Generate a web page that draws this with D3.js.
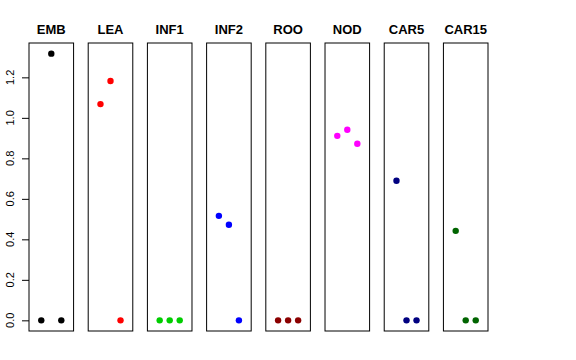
<!DOCTYPE html>
<html>
<head>
<script src="https://cdn.jsdelivr.net/npm/d3@7"></script>
<style>
  body { margin: 0; background: #fff; }
  text { font-family: "Liberation Sans", Arial, sans-serif; }
</style>
</head>
<body>
<div id="chart"></div>
<script>
// one panel per tissue, three samples each
var tissues = ["EMB", "LEA", "INF1", "INF2", "ROO", "NOD", "CAR5", "CAR15"];
var colors = ["#000000", "#FF0000", "#00CD00", "#0000FF", "#8B0000", "#FF00FF", "#000080", "#006400"];
var samples = [1, 2, 3];
var values = [
    [0, 1.317, 0],
    [1.068, 1.182, 0],
    [0, 0, 0],
    [0.516, 0.472, 0],
    [0, 0, 0],
    [0.911, 0.941, 0.872],
    [0.689, 0, 0],
    [0.442, 0, 0]
];
var yTicks = [0, 0.2, 0.4, 0.6, 0.8, 1.0, 1.2];

var w = 576, h = 360;
var plotTop = 43, plotBottom = 331, plotLeft = 29, plotRight = 488;

var svg = d3.select("#chart").append("svg")
    .attr("width", w).attr("height", h);

var panelScale = d3.scaleBand().domain(tissues)
    .range([plotLeft, plotRight]).paddingInner(0.247).paddingOuter(0);

var ymax = d3.max(values, function(d){ return d3.max(d); });
var ypad = ymax * 0.04;
var yScale = d3.scaleLinear().domain([-ypad, ymax + ypad]).range([plotBottom, plotTop]);
var xScale = d3.scaleLinear().domain([-0.225, 4.225]).range([0, panelScale.bandwidth()]);

tissues.forEach(function(t, i){
    var g = svg.append("g")
        .attr("transform", "translate(" + panelScale(t) + ",0)");

    g.selectAll("circle")
        .data(values[i])
        .enter()
        .append("circle")
        .attr("cx", function(d, j){ return xScale(samples[j]); })
        .attr("cy", function(d){ return yScale(d); })
        .attr("r", 3.2)
        .style("fill", colors[i]);

    g.append("rect")
        .attr("x", 0).attr("y", plotTop)
        .attr("width", panelScale.bandwidth())
        .attr("height", plotBottom - plotTop)
        .style("fill", "none")
        .style("stroke", "#000")
        .style("stroke-width", 1);

    g.append("text")
        .attr("x", panelScale.bandwidth() / 2)
        .attr("y", 34)
        .attr("text-anchor", "middle")
        .style("font-size", "13px")
        .style("font-weight", "bold")
        .text(t);
});

var yAxis = d3.axisLeft(yScale)
    .tickValues(yTicks)
    .tickSize(7)
    .tickPadding(0)
    .tickFormat(d3.format(".1f"));

var ax = svg.append("g")
    .attr("transform", "translate(" + plotLeft + ",0)")
    .call(yAxis);
ax.select(".domain").remove();
ax.selectAll("text").remove();

svg.selectAll(".ylab")
    .data(yTicks)
    .enter()
    .append("text")
    .attr("class", "ylab")
    .attr("transform", function(d){ return "translate(14," + yScale(d) + ") rotate(-90)"; })
    .attr("text-anchor", "middle")
    .style("font-size", "11px")
    .text(function(d){ return d3.format(".1f")(d); });
</script>
</body>
</html>
